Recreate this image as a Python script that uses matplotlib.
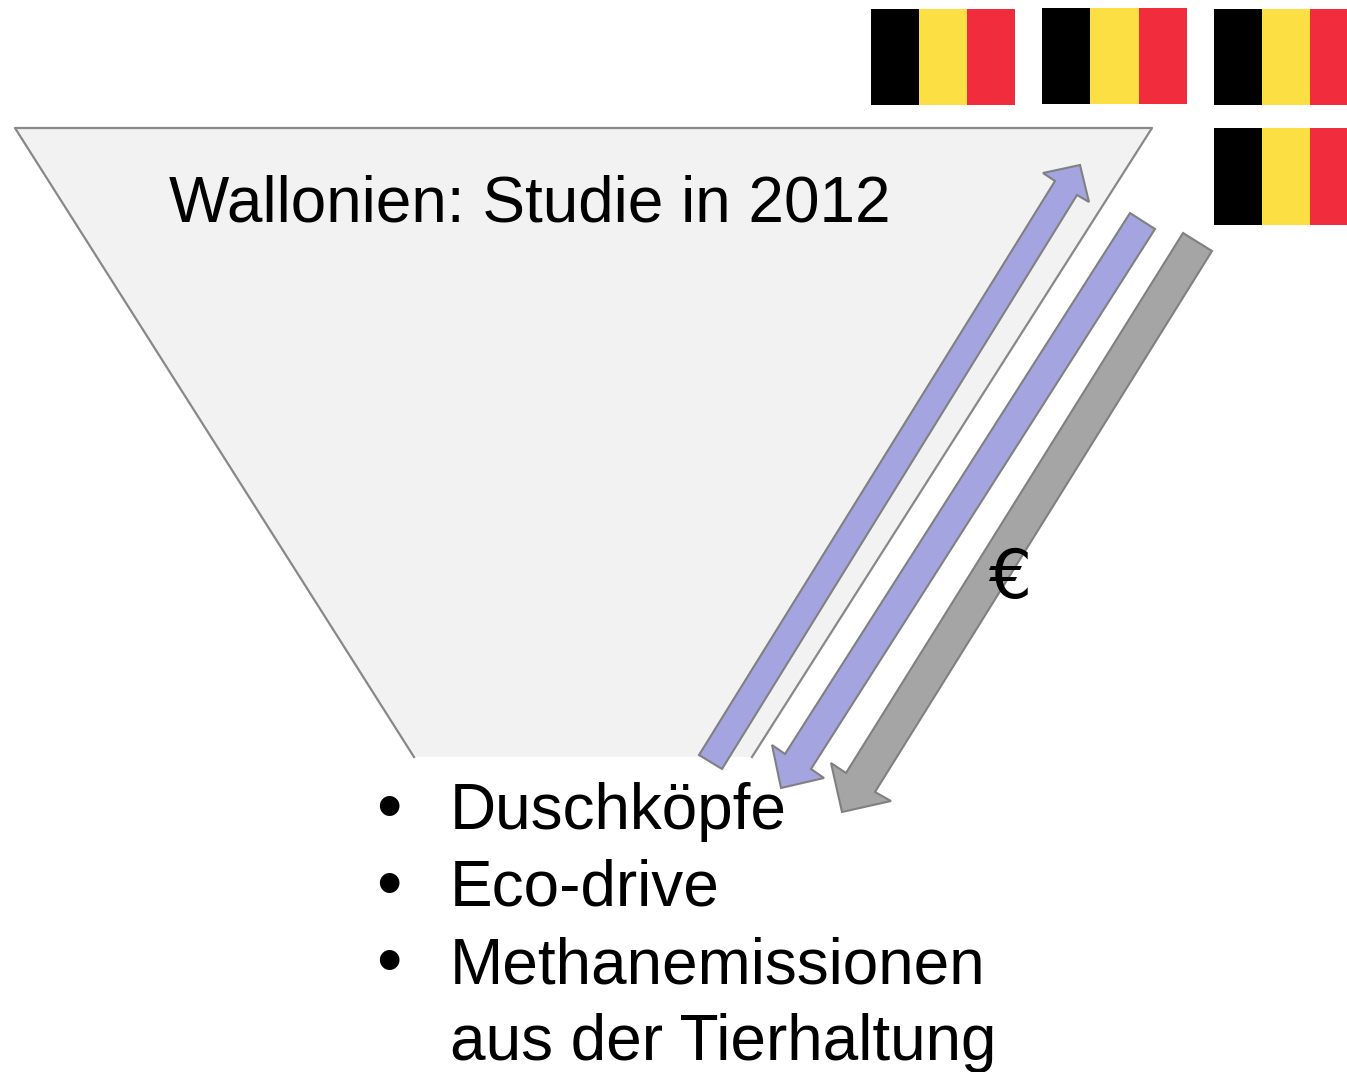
#!/usr/bin/env python3
"""Funnel sketch: Wallonia study, flags, arrows and measure list."""
import matplotlib
matplotlib.use("Agg")
import matplotlib.pyplot as plt
from matplotlib.patches import Polygon, Rectangle

W, H = 1347, 1072

FUNNEL = [(15, 128), (1152, 128), (752, 757), (414, 757)]
# x, y, stripe width, height, drawn width (the right-hand flags are cropped)
FLAG_BOXES = [(871, 9, 48, 96, 144), (1042, 8, 48.3, 96, 145),
              (1214, 9, 48, 96, 133), (1214, 128, 48, 97, 133)]
FLAG_COLOURS = ["#000000", "#fce043", "#f12c3d"]

ARROW_UP = [(699, 755), (1055, 181), (1043, 173), (1080, 165), (1089, 202), (1077, 195), (722, 769)]
ARROW_DOWN = [(1155, 229), (811, 769), (824, 778), (781, 788), (772, 745), (785, 754), (1130, 213)]
ARROW_EURO = [(1212, 251), (875, 792), (891, 801), (842, 812), (831, 763), (846, 773), (1183, 233)]

TITLE = "Wallonien: Studie in 2012"
BULLETS = ["Duschköpfe", "Eco-drive", "Methanemissionen"]
BULLET_Y = [829, 906, 983]
LAST_LINE = "aus der Tierhaltung"
LAST_Y = 1060

plt.rcParams["font.family"] = ["Liberation Sans", "DejaVu Sans"]

fig = plt.figure(figsize=(W / 100, H / 100), dpi=100)
ax = fig.add_axes([0, 0, 1, 1])
ax.set_xlim(0, W)
ax.set_ylim(H, 0)
ax.axis("off")

ax.add_patch(Polygon(FUNNEL, closed=False, fc="#f2f2f2", ec="none"))
# no edge along the bottom of the funnel
ax.plot([414, 15, 1152, 752], [757, 128, 128, 757], color="#888888", lw=1.6)

for x, y, sw, h, full in FLAG_BOXES:
    for k, col in enumerate(FLAG_COLOURS):
        # red stripe gets whatever is left of the cropped width
        w = min(sw, full - k * sw)
        ax.add_patch(Rectangle((x + k * sw, y), w, h, fc=col, ec="none"))

for pts, col in [(ARROW_UP, "#a4a4e0"), (ARROW_DOWN, "#a4a4e0"), (ARROW_EURO, "#a5a5a5")]:
    ax.add_patch(Polygon(pts, closed=True, fc=col, ec="#808080", lw=1.5, joinstyle="miter"))

FS = 46
ax.text(169, 222, TITLE, fontsize=FS, va="baseline", ha="left", color="black")
ax.text(988, 598, "€", fontsize=49, va="baseline", ha="left", color="black", family="DejaVu Sans")
for label, y in zip(BULLETS, BULLET_Y):
    ax.text(376, y + 1, "•", fontsize=52, va="baseline", ha="left", color="black")
    ax.text(449.5, y, label, fontsize=FS, va="baseline", ha="left", color="black")
ax.text(449.5, LAST_Y, LAST_LINE, fontsize=FS, va="baseline", ha="left", color="black")

fig.savefig("out.png", dpi=100)
